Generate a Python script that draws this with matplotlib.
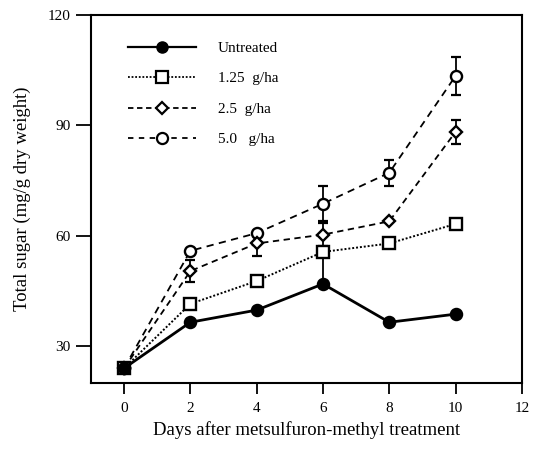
import matplotlib
matplotlib.use("Agg")
import matplotlib.pyplot as plt
from matplotlib.lines import Line2D

days = [0, 2, 4, 6, 8, 10]
untreated = [24.0, 36.5, 39.8, 46.9, 36.5, 38.7]
g125 = [24.0, 41.5, 47.7, 55.6, 57.9, 63.2]
g25 = [24.0, 50.4, 57.9, 60.3, 63.9, 88.2]
g50 = [24.0, 55.9, 60.7, 68.7, 77.1, 103.4]

# asymmetric errors: (lower, upper)
err_untreated = ([0, 0, 0, 0, 0, 0], [0, 0, 0, 7.5, 0, 0])
err_g125 = ([0, 0, 0, 0, 0, 0], [0, 0, 0, 0, 0, 0])
err_g25 = ([0, 3.0, 3.4, 3.2, 0, 3.3], [0, 3.0, 3.4, 3.2, 0, 3.3])
err_g50 = ([0, 0, 0, 4.7, 3.6, 5.2], [0, 0, 0, 4.7, 3.6, 5.2])

labels = ["Untreated", "1.25  g/ha", "2.5  g/ha", "5.0   g/ha"]
xticks = [0, 2, 4, 6, 8, 10, 12]
yticks = [30, 60, 90, 120]

plt.rcParams['font.family'] = ['Liberation Serif', 'DejaVu Serif']

fig = plt.figure(figsize=(5.38, 4.49), dpi=100)
ax = fig.add_axes([0.169, 0.147, 0.801, 0.820])

series = [
    (g50, err_g50, dict(linestyle=(0, (4, 3)), marker='o', markersize=8, mfc='white', lw=1.3), 3.5),
    (g25, err_g25, dict(linestyle=(0, (3.5, 2.5)), marker='D', markersize=6, mfc='white', lw=1.3), 3.5),
    (g125, err_g125, dict(linestyle=(0, (1, 1)), marker='s', markersize=9, mfc='white', lw=1.4), 3.5),
    (untreated, err_untreated, dict(linestyle='-', marker='o', markersize=8, mfc='black', lw=2.0), 0),
]
for i, (vals, errs, st, cs) in enumerate(series):
    ax.errorbar(days, vals, yerr=errs, fmt='none', ecolor='black',
                capsize=cs, elinewidth=1.3, capthick=1.6, zorder=2)
    ax.plot(days, vals, color='black', mec='black', mew=1.7, zorder=3 + i, **st)

proxies = [
    Line2D([], [], color='black', linestyle='-', marker='o', markersize=8, mfc='black', lw=1.6),
    Line2D([], [], color='black', linestyle=(0, (1, 1)), marker='s', markersize=9, mfc='white', mew=1.6, lw=1.3),
    Line2D([], [], color='black', linestyle=(0, (3, 2)), marker='D', markersize=6, mfc='white', mew=1.6, lw=1.3),
    Line2D([], [], color='black', linestyle=(0, (3, 3)), marker='o', markersize=8, mfc='white', mew=1.6, lw=1.3),
]
ax.legend(proxies, labels, loc='upper left', bbox_to_anchor=(0.071, 0.945),
          frameon=False, fontsize=11, handlelength=4.5, handletextpad=1.4,
          labelspacing=1.1, borderaxespad=0.0)

ax.set_xlim(-1, 12)
ax.set_ylim(20, 120)
ax.set_xticks(xticks)
ax.set_yticks(yticks)
ax.tick_params(direction='out', length=8, width=1.3, labelsize=11)
ax.tick_params(axis='x', pad=6)
ax.tick_params(axis='y', length=11)
for s in ax.spines.values():
    s.set_linewidth(1.5)

ax.set_xlabel("Days after metsulfuron-methyl treatment", fontsize=13.5, labelpad=4)
ax.set_ylabel("Total sugar (mg/g dry weight)", fontsize=13.5, labelpad=12)

fig.savefig("out.png", dpi=100)
